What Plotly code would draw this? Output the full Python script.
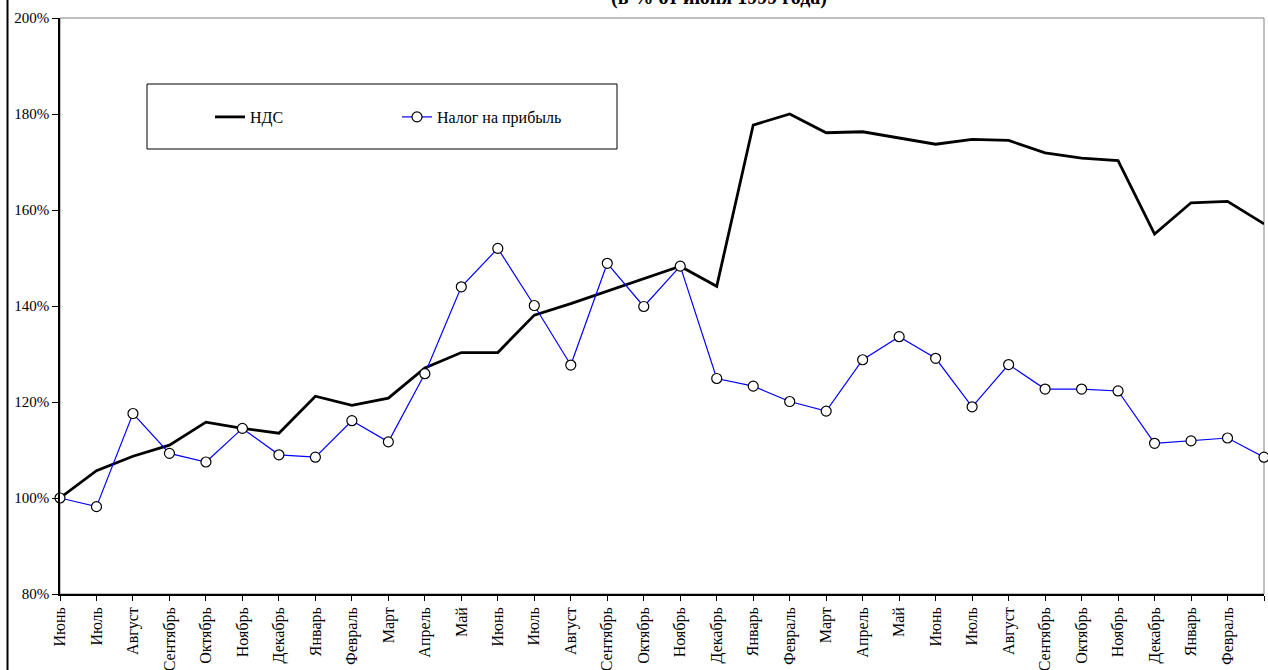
import plotly.graph_objects as go

months = ["Июнь", "Июль", "Август", "Сентябрь", "Октябрь", "Ноябрь", "Декабрь",
          "Январь", "Февраль", "Март", "Апрель", "Май", "Июнь", "Июль", "Август",
          "Сентябрь", "Октябрь", "Ноябрь", "Декабрь", "Январь", "Февраль", "Март",
          "Апрель", "Май", "Июнь", "Июль", "Август", "Сентябрь", "Октябрь", "Ноябрь",
          "Декабрь", "Январь", "Февраль", ""]

nds = [100, 105.7, 108.7, 111.0, 115.8, 114.5, 113.5, 121.2, 119.3, 120.8,
       127.1, 130.3, 130.3, 138.1, 140.5, 143.1, 145.7, 148.3, 144.1, 177.7,
       180.0, 176.1, 176.3, 175.0, 173.7, 174.7, 174.5, 171.9, 170.8, 170.3,
       155.0, 161.5, 161.8, 157.1]

profit_tax = [100, 98.2, 117.6, 109.3, 107.5, 114.5, 109.0, 108.5, 116.1, 111.7,
              125.9, 144.0, 152.0, 140.1, 127.7, 148.9, 139.9, 148.3, 124.9, 123.3,
              120.1, 118.1, 128.8, 133.6, 129.1, 119.0, 127.8, 122.7, 122.7, 122.3,
              111.4, 111.9, 112.5, 108.5]

y_ticks = [80, 100, 120, 140, 160, 180, 200]
title_text = "(в % от июня 1999 года)"

FONT = "Liberation Serif"
W, H = 1268, 670
ML, MR, MT, MB = 60, 4, 18, 76
PW = W - ML - MR
PH = H - MT - MB


def px_x(p):
    return (p - ML) / PW


def px_y(p):
    return (H - MB - p) / PH


idx = list(range(len(months)))

fig = go.Figure()
fig.add_trace(go.Scatter(
    x=idx, y=nds, name="НДС", mode="lines",
    line=dict(color="black", width=2.8),
    cliponaxis=False, legend="legend"))
fig.add_trace(go.Scatter(
    x=idx, y=profit_tax, name="Налог на прибыль", mode="lines+markers",
    line=dict(color="#0000FF", width=1.2),
    marker=dict(symbol="circle", size=10, color="white",
                line=dict(color="black", width=1.2)),
    cliponaxis=False, legend="legend2"))

legend_common = dict(
    bgcolor="rgba(0,0,0,0)", borderwidth=0,
    font=dict(family=FONT, size=16, color="black"),
    yanchor="middle", xanchor="left", orientation="h",
)

fig.update_layout(
    width=W, height=H,
    margin=dict(l=ML, r=MR, t=MT, b=MB, pad=0),
    paper_bgcolor="white", plot_bgcolor="white",
    font=dict(family=FONT, size=15, color="black"),
    showlegend=True,
    legend=dict(x=px_x(210), y=px_y(117), **legend_common),
    legend2=dict(x=px_x(397), y=px_y(117), **legend_common),
    xaxis=dict(
        range=[0, len(months) - 1], tickmode="array", tickvals=idx, ticktext=months,
        tickangle=-90, ticks="outside", ticklen=5, tickcolor="black", tickwidth=1,
        showline=True, linecolor="black", linewidth=1.5, showgrid=False,
        zeroline=False, automargin=False,
        tickfont=dict(family=FONT, size=16, color="black"),
    ),
    yaxis=dict(
        range=[80, 200], tickmode="array", tickvals=y_ticks,
        ticktext=[f"{v}%" for v in y_ticks],
        ticks="outside", ticklen=6, tickcolor="black", tickwidth=1,
        showline=True, linecolor="black", linewidth=1.5, showgrid=False,
        zeroline=False, automargin=False,
        tickfont=dict(family=FONT, size=15, color="black"),
    ),
    shapes=[
        # plot-area frame (grey)
        dict(type="rect", xref="paper", yref="paper", x0=0, x1=1, y0=0, y1=1,
             line=dict(color="#808080", width=1), layer="below"),
        # legend box
        dict(type="rect", xref="paper", yref="paper",
             x0=px_x(147), x1=px_x(617), y0=px_y(149), y1=px_y(84),
             line=dict(color="black", width=1), fillcolor="white", layer="below"),
        # chart-area left border
        dict(type="line", xref="paper", yref="paper",
             x0=px_x(7.5), x1=px_x(7.5), y0=px_y(H), y1=px_y(0),
             line=dict(color="black", width=2)),
    ],
    annotations=[
        dict(text=f"<b>{title_text}</b>", xref="paper", yref="paper",
             x=px_x(719), y=px_y(-2.5), xanchor="center", yanchor="middle",
             showarrow=False, font=dict(family=FONT, size=20, color="black")),
    ],
)

fig.write_html("out.html")
